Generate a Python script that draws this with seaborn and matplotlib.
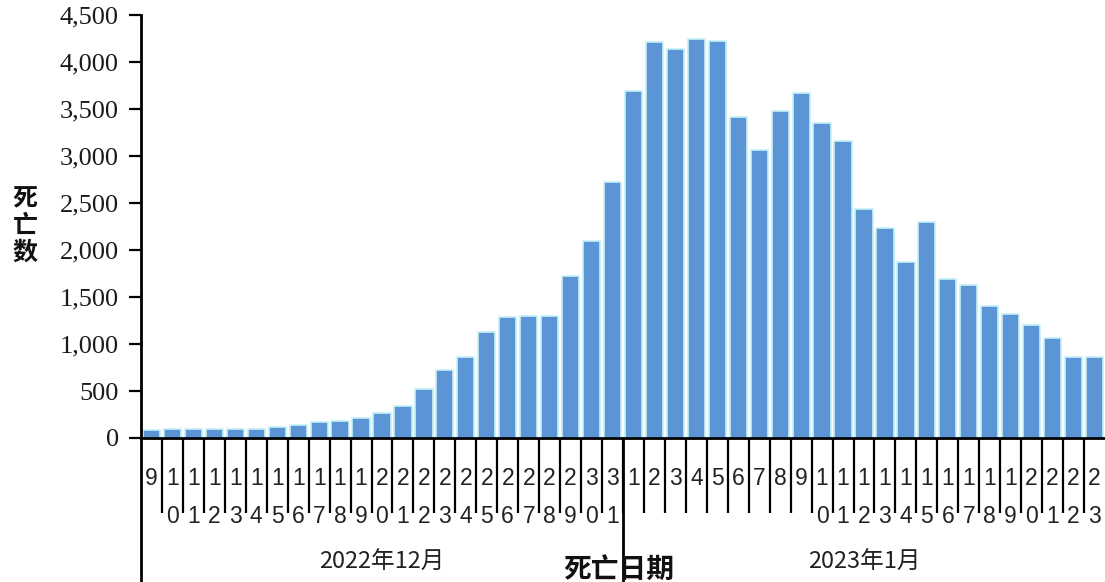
import numpy as np
import pandas as pd
import matplotlib
matplotlib.use("Agg")
import matplotlib.pyplot as plt
import matplotlib.transforms as mtransforms
from matplotlib.ticker import FuncFormatter
import seaborn as sns

# Daily deaths, 2022-12-09 .. 2023-01-23
dec_days = list(range(9, 32))
jan_days = list(range(1, 24))
dec_deaths = [85, 100, 100, 100, 100, 100, 115, 136, 168, 186, 218, 268, 338,
              523, 725, 860, 1130, 1285, 1300, 1300, 1727, 2099, 2720]
jan_deaths = [3688, 4209, 4142, 4241, 4227, 3418, 3060, 3482, 3667, 3348, 3163,
              2436, 2231, 1876, 2301, 1695, 1624, 1408, 1322, 1202, 1064, 862, 862]
month_labels = ["2022年12月", "2023年1月"]
y_ticks = [0, 500, 1000, 1500, 2000, 2500, 3000, 3500, 4000, 4500]

dates = [f"2022-12-{d:02d}" for d in dec_days] + [f"2023-01-{d:02d}" for d in jan_days]
days = dec_days + jan_days
df = pd.DataFrame({"date": dates, "deaths": dec_deaths + jan_deaths})

sns.set_theme(style="white")
plt.rcParams["font.family"] = ["Noto Sans CJK SC", "DejaVu Sans"]

fig = plt.figure(figsize=(11.05, 5.82), dpi=100)
W, H = 1105, 582
ax = fig.add_axes([141 / W, (H - 438) / H, (W - 141) / W, (438 - 15) / H])

sns.barplot(data=df, x="date", y="deaths", order=dates, color="#5B95D5",
            saturation=1, width=0.82, edgecolor="#C4F1F8", linewidth=1.2, ax=ax)

n = len(dates)
ax.set_xlim(-0.5, n - 0.5)
ax.set_ylim(0, 4500)
ax.set_yticks(y_ticks)
ax.yaxis.set_major_formatter(FuncFormatter(lambda v, p: f"{int(v):,}"))
for lab in ax.get_yticklabels():
    lab.set_fontfamily("Liberation Serif")
    lab.set_fontsize(19)
ax.tick_params(axis="y", direction="out", length=9, width=1.6, color="black",
               left=True, pad=7, labelcolor="#1a1a1a")

# stacked digit labels under each bar
ax.set_xticks(range(n))
ax.set_xticklabels(["\n".join(str(d)) for d in days], fontfamily="Liberation Sans",
                   fontsize=16.5, linespacing=1.82, color="#222222")
ax.tick_params(axis="x", which="major", length=0, pad=21)
ax.set_xticks(np.arange(0.5, n - 0.5, 1), minor=True)
ax.tick_params(axis="x", which="minor", bottom=True, length=54, width=1.6,
               color="black", direction="out")

for side in ["top", "right"]:
    ax.spines[side].set_visible(False)
for side in ["left", "bottom"]:
    ax.spines[side].set_linewidth(2)
    ax.spines[side].set_color("black")

ax.set_xlabel("")
ax.set_ylabel("")

# month separators running to the bottom edge
trans = mtransforms.blended_transform_factory(ax.transData, ax.transAxes)
for xv in [-0.5, len(dec_days) - 0.5]:
    ax.plot([xv, xv], [0, -0.36], transform=trans, color="black", lw=2,
            clip_on=False, zorder=6)

ftrans = mtransforms.blended_transform_factory(ax.transData, fig.transFigure)
ax.text((len(dec_days) - 1) / 2, (H - 562) / H, month_labels[0], transform=ftrans,
        ha="center", va="center", fontsize=17, color="#222222")
ax.text(len(dec_days) + (len(jan_days) - 1) / 2, (H - 562) / H, month_labels[1],
        transform=ftrans, ha="center", va="center", fontsize=17, color="#222222")

fig.text(619 / W, (H - 570) / H, "死亡日期", ha="center", va="center",
         fontsize=20, fontweight="bold", color="#111111", zorder=1)
fig.text(25 / W, (H - 226) / H, "死\n亡\n数", ha="center", va="center",
         fontsize=18, fontweight="bold", color="#111111", linespacing=1.15)

fig.savefig("out.png", dpi=100)
